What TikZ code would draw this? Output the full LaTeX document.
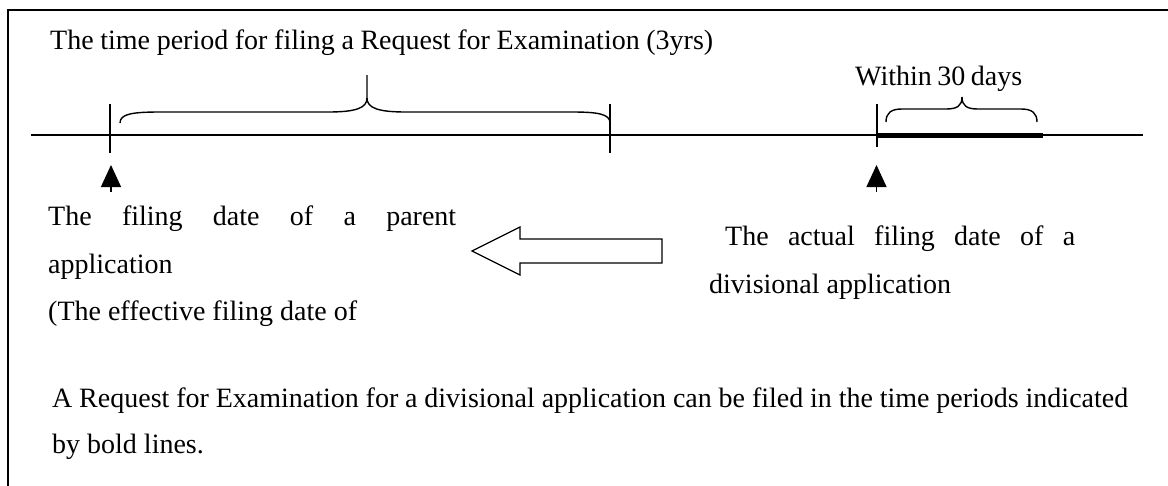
\documentclass[tikz,border=0pt]{standalone}
\usepackage{fontspec}
\setmainfont{Liberation Serif}
\usetikzlibrary{arrows.meta}
\begin{document}
\begin{tikzpicture}[x=1pt,y=-1pt,
  txt/.style={font=\fontsize{28}{34}\selectfont, inner sep=0pt, anchor=base west},
  frame/.style={line width=2pt},
  axis/.style={line width=1.5pt},
  tickline/.style={line width=1.5pt},
  boldline/.style={line width=5pt},
  brace/.style={line width=1.4pt},
  pointer/.style={line width=1.3pt,-{Triangle[length=22pt,width=20pt]}},
  hollow/.style={line width=1.3pt, fill=white}
]
\useasboundingbox (0,0) rectangle (1168,485);
% frame
\draw[frame] (1168,9.5) -- (8,9.5) -- (8,486);
% timeline
\coordinate (L) at (31,135);
\coordinate (R) at (1143,135);
\draw[axis] (L) -- (R);
% ticks
\coordinate (t1a) at (110,104); \coordinate (t1b) at (110,153);
\coordinate (t2a) at (610,104); \coordinate (t2b) at (610,153);
\coordinate (t3a) at (877,104); \coordinate (t3b) at (877,147);
\draw[tickline] (t1a) -- (t1b);
\draw[tickline] (t2a) -- (t2b);
\draw[tickline] (t3a) -- (t3b);
% bold period
\coordinate (b1) at (877,135); \coordinate (b2) at (1043,135);
\draw[boldline] (b1) -- (b2);
% brace 1
\draw[brace] (120,123) .. controls (120,114) and (132,112) .. (160,112)
  -- (328,112) .. controls (356,112) and (367,108) .. (367,98) -- (367,75);
\draw[brace] (367,98) .. controls (367,108) and (378,112) .. (406,112)
  -- (572,112) .. controls (598,112) and (610,114) .. (610,123);
% brace 2
\draw[brace] (886,122) .. controls (886,113) and (891,109) .. (902,109)
  -- (946,109) .. controls (957,109) and (962,106) .. (962,97);
\draw[brace] (962,97) .. controls (962,106) and (967,109) .. (978,109)
  -- (1021,109) .. controls (1032,109) and (1037,113) .. (1037,122);
% pointers
\coordinate (p1s) at (111,192); \coordinate (p1t) at (111,165);
\coordinate (p2s) at (876.5,192); \coordinate (p2t) at (876.5,165);
\draw[pointer] (p1s) -- (p1t);
\draw[pointer] (p2s) -- (p2t);
% hollow arrow
\draw[hollow] (472,251) -- (520,227) -- (520,239) -- (662,239) -- (662,263)
  -- (520,263) -- (520,275) -- cycle;
% texts
\node[txt] (title) at (50,49) {\makebox[663pt][s]{The time period for filing a Request for Examination (3yrs)}};
\node[txt] (within) at (855,85) {\makebox[167pt][s]{Within 30 days}};
\node[txt] (par1) at (48,225) {\makebox[408pt][s]{The filing date of a parent}};
\node[txt] (par2) at (48,273) {application};
\node[txt] (par3) at (48,320) {(The effective filing date of};
\node[txt] (div1) at (725,245) {\makebox[350pt][s]{The actual filing date of a}};
\node[txt] (div2) at (709,293) {divisional application};
\node[txt] (note1) at (52,407) {\makebox[1076pt][s]{A Request for Examination for a divisional application can be filed in the time periods indicated}};
\node[txt] (note2) at (52,453) {by bold lines.};
\end{tikzpicture}
\end{document}
